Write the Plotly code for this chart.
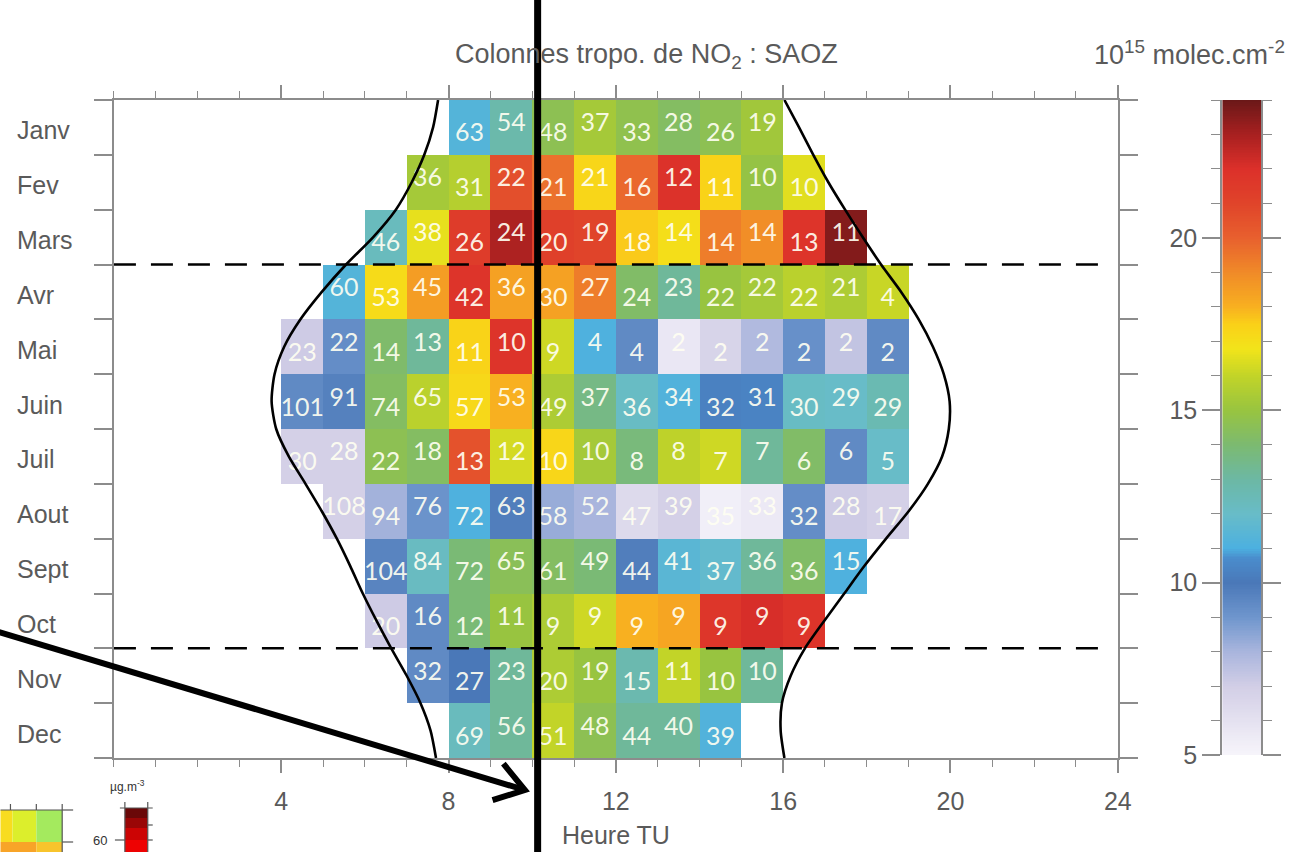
import math
import numpy as np
import plotly.graph_objects as go

# ---------------- data ----------------
months = ["Janv", "Fev", "Mars", "Avr", "Mai", "Juin", "Juil", "Aout", "Sept", "Oct", "Nov", "Dec"]
start_hours = [8, 7, 6, 5, 4, 4, 4, 5, 6, 6, 7, 8]

# NO2 tropospheric columns (1e15 molec/cm2), one value per hour starting at start_hours
no2_janv = [11.3, 12.8, 14.6, 15.3, 14.7, 14.3, 14.6, 15.2]
no2_fev = [15.3, 15.7, 20.6, 19.6, 17.3, 19.8, 21.9, 17.4, 14.9, 16.5]
no2_mars = [12.3, 16.6, 21.4, 22.9, 21.2, 21.0, 17.6, 17.0, 19.3, 18.9, 21.8, 23.6]
no2_avr = [11.3, 17.1, 18.5, 21.8, 18.4, 18.4, 19.3, 14.2, 13.2, 15.0, 15.3, 15.8, 15.5, 16.1]
no2_mai = [7.1, 9.3, 14.1, 13.2, 17.4, 21.8, 16.2, 11.1, 9.4, 5.7, 6.7, 7.8, 9.2, 7.4, 9.4]
no2_juin = [9.4, 9.7, 14.3, 15.8, 17.2, 18.0, 15.5, 13.6, 12.1, 11.2, 10.3, 10.4, 12.1, 12.0, 12.6]
no2_juil = [6.9, 6.9, 14.6, 14.3, 20.5, 16.3, 17.3, 15.3, 13.8, 15.9, 16.2, 13.2, 14.2, 9.4, 12.0]
no2_aout = [6.9, 8.1, 9.1, 11.1, 9.8, 8.3, 8.0, 6.4, 6.9, 5.3, 5.6, 9.3, 7.1, 6.9]
no2_sept = [9.6, 12.2, 13.9, 14.5, 14.3, 13.9, 9.8, 11.5, 11.8, 13.2, 14.2, 11.1]
no2_oct = [7.1, 9.4, 13.9, 15.0, 15.5, 16.2, 18.0, 18.3, 21.7, 22.1, 21.8]
no2_nov = [9.4, 10.0, 13.2, 15.5, 15.0, 12.7, 16.0, 15.0, 13.2]
no2_dec = [12.3, 13.2, 16.0, 14.6, 13.2, 13.2, 11.2]

# number of observations per cell
n_janv = [63, 54, 48, 37, 33, 28, 26, 19]
n_fev = [36, 31, 22, 21, 21, 16, 12, 11, 10, 10]
n_mars = [46, 38, 26, 24, 20, 19, 18, 14, 14, 14, 13, 11]
n_avr = [60, 53, 45, 42, 36, 30, 27, 24, 23, 22, 22, 22, 21, 4]
n_mai = [23, 22, 14, 13, 11, 10, 9, 4, 4, 2, 2, 2, 2, 2, 2]
n_juin = [101, 91, 74, 65, 57, 53, 49, 37, 36, 34, 32, 31, 30, 29, 29]
n_juil = [30, 28, 22, 18, 13, 12, 10, 10, 8, 8, 7, 7, 6, 6, 5]
n_aout = [108, 94, 76, 72, 63, 58, 52, 47, 39, 35, 33, 32, 28, 17]
n_sept = [104, 84, 72, 65, 61, 49, 44, 41, 37, 36, 36, 15]
n_oct = [20, 16, 12, 11, 9, 9, 9, 9, 9, 9, 9]
n_nov = [32, 27, 23, 20, 19, 15, 11, 10, 10]
n_dec = [69, 56, 51, 48, 44, 40, 39]

# sunrise / sunset curves (hour UT vs month position, 0 = start of January)
curve_row = [0.0, 0.5, 1.0, 1.5, 2.0, 2.5, 3.0, 3.5, 4.0, 4.5, 5.0, 5.5, 6.0,
             6.5, 7.0, 7.5, 8.0, 8.5, 9.0, 9.5, 10.0, 10.5, 11.0, 11.5, 12.0]
sunrise_hour = [7.75, 7.63, 7.42, 7.12, 6.74, 6.20, 5.55, 4.97, 4.46, 4.07, 3.84, 3.77, 3.88,
                4.18, 4.58, 4.97, 5.33, 5.65, 5.95, 6.28, 6.63, 7.00, 7.33, 7.57, 7.70]
sunset_hour = [16.03, 16.38, 16.72, 17.08, 17.48, 17.90, 18.34, 18.82, 19.24, 19.58, 19.84, 19.98, 19.96,
               19.80, 19.46, 19.00, 18.46, 17.94, 17.46, 16.98, 16.52, 16.18, 15.97, 15.94, 16.03]

season_breaks = [3, 10]        # dashed separators (between Mars/Avr and Oct/Nov)
marked_hour = 10.13            # thick vertical marker
x_ticks = [4, 8, 12, 16, 20, 24]
cb_ticks = [5, 10, 15, 20]
zmin, zmax = 5, 24

colorscale = [
    [0.000, "#f7f5fb"], [0.105, "#d2cee6"], [0.158, "#a9b5dd"], [0.210, "#6f96cd"],
    [0.263, "#4a78b8"], [0.300, "#4a8ccc"], [0.316, "#4cb0e0"], [0.368, "#68bcc8"],
    [0.421, "#6cb8a4"], [0.474, "#7cba70"], [0.526, "#98c440"], [0.579, "#c2d428"],
    [0.620, "#f2e41a"], [0.658, "#fad018"], [0.684, "#f8b020"], [0.737, "#f08a28"],
    [0.789, "#e8602e"], [0.842, "#e0442a"], [0.895, "#dc302a"], [0.947, "#a82020"],
    [1.000, "#6a1818"],
]

no2_rows = [no2_janv, no2_fev, no2_mars, no2_avr, no2_mai, no2_juin,
            no2_juil, no2_aout, no2_sept, no2_oct, no2_nov, no2_dec]
n_rows = [n_janv, n_fev, n_mars, n_avr, n_mai, n_juin,
          n_juil, n_aout, n_sept, n_oct, n_nov, n_dec]

# ---------------- geometry helpers ----------------
W, H = 1297, 852
ML, MR, MT, MB = 100, 20, 100, 94
PW, PH = W - ML - MR, H - MT - MB


def fx(px):
    return (px - ML) / PW


def fy(py):
    return (H - MB - py) / PH


# ---------------- build matrices ----------------
z = [[None] * 24 for _ in range(12)]
tx, ty, tt = [], [], []
for r in range(12):
    h0 = start_hours[r]
    for k, (v, n) in enumerate(zip(no2_rows[r], n_rows[r])):
        h = h0 + k
        z[r][h] = v
        tx.append(h + 0.5)
        ty.append(r + 0.5 + (0.14 if h % 2 == 0 else -0.04))
        tt.append(str(n))

fig = go.Figure()

fig.add_trace(go.Heatmap(
    x=np.arange(24) + 0.5, y=np.arange(12) + 0.5, z=z,
    colorscale=colorscale, zmin=zmin, zmax=zmax, showscale=False,
    xgap=0, ygap=0, hoverongaps=False,
))

fig.add_trace(go.Scatter(
    x=tx, y=ty, text=tt, mode="text",
    textfont=dict(family="Lato", size=25, color="rgba(255,255,242,0.93)"),
    hoverinfo="skip", showlegend=False,
))

for hx in (sunrise_hour, sunset_hour):
    fig.add_trace(go.Scatter(
        x=hx, y=curve_row, mode="lines",
        line=dict(color="black", width=2.6, shape="spline", smoothing=0.7),
        hoverinfo="skip", showlegend=False,
    ))

# colour bar drawn as a second heatmap so labels can sit on its left
cb_vals = np.linspace(zmin, zmax, 400)
fig.add_trace(go.Heatmap(
    x=[0], y=cb_vals, z=cb_vals[:, None],
    colorscale=colorscale, zmin=zmin, zmax=zmax, showscale=False,
    xaxis="x2", yaxis="y2", hoverinfo="skip",
))

axis_grey = "#8c8c8c"
label_font = dict(family="Liberation Sans", size=25, color="#5a5a5a")

fig.update_layout(
    width=W, height=H,
    margin=dict(l=ML, r=MR, t=MT, b=MB, pad=0),
    paper_bgcolor="white", plot_bgcolor="white",
    showlegend=False,
    xaxis=dict(
        domain=[fx(114), fx(1123)], range=[0, 24],
        tickvals=x_ticks, ticktext=[str(v) for v in x_ticks],
        ticks="outside", ticklen=13, tickwidth=1.5, tickcolor=axis_grey,
        minor=dict(dtick=1, tick0=0, ticks="outside", ticklen=7, tickcolor=axis_grey, tickwidth=1.2),
        mirror="allticks", showline=True, linecolor=axis_grey, linewidth=2,
        showgrid=False, zeroline=False, tickfont=label_font, ticklabelstandoff=7,
        anchor="y",
    ),
    yaxis=dict(
        domain=[0, 1], range=[12, 0],
        tickvals=list(range(13)), showticklabels=False,
        ticks="outside", ticklen=18, tickwidth=1.5, tickcolor=axis_grey,
        mirror="allticks", showline=True, linecolor=axis_grey, linewidth=2,
        showgrid=False, zeroline=False, anchor="x",
    ),
    xaxis2=dict(
        domain=[fx(1228), fx(1267)], range=[-0.5, 0.5], anchor="y2",
        showticklabels=False, ticks="", showgrid=False, zeroline=False, showline=False,
    ),
    yaxis2=dict(
        domain=[fy(755), fy(100)], range=[zmin, zmax], anchor="x2", side="left",
        tickvals=cb_ticks, ticks="outside", ticklen=18, tickwidth=1.5, tickcolor=axis_grey,
        minor=dict(dtick=1, tick0=5, ticks="outside", ticklen=9, tickcolor=axis_grey, tickwidth=1.2),
        mirror="allticks", showline=True, linecolor=axis_grey, linewidth=2,
        showgrid=False, zeroline=False, tickfont=label_font,
    ),
)

# month labels
for r, m in enumerate(months):
    fig.add_annotation(x=fx(15), xref="paper", y=r + 0.5, yref="y", yshift=-3,
                       text=m, showarrow=False, xanchor="left", yanchor="middle",
                       font=label_font)

title_font = dict(family="Liberation Sans", size=27, color="#5a5a5a")
fig.add_annotation(x=fx(649), y=fy(56), xref="paper", yref="paper",
                   text="Colonnes tropo. de NO<sub>2</sub> : SAOZ", showarrow=False,
                   xanchor="center", yanchor="middle", font=title_font)
fig.add_annotation(x=fx(1293), y=fy(53), xref="paper", yref="paper",
                   text="10<sup>15</sup> molec.cm<sup>-2</sup>", showarrow=False,
                   xanchor="right", yanchor="middle", font=title_font)
fig.add_annotation(x=12, xref="x", y=fy(835), yref="paper",
                   text="Heure TU", showarrow=False, xanchor="center", yanchor="middle",
                   font=label_font)

shapes = []
for b in season_breaks:
    shapes.append(dict(type="line", xref="x", yref="y", x0=0, x1=23.7, y0=b, y1=b,
                       line=dict(color="black", width=2.5, dash="22px,15px"), layer="above"))

shapes.append(dict(type="line", xref="x", yref="paper", x0=marked_hour, x1=marked_hour,
                   y0=fy(H + 10), y1=fy(-10), line=dict(color="black", width=7), layer="above"))

# arrow (overlay)
tail = (-5, 631)
tip = (527, 790)
dx, dy = tip[0] - tail[0], tip[1] - tail[1]
L = math.hypot(dx, dy)
ux, uy = dx / L, dy / L
wing = 34
theta = math.radians(34)
w1 = (tip[0] - wing * (ux * math.cos(theta) - uy * math.sin(theta)),
      tip[1] - wing * (ux * math.sin(theta) + uy * math.cos(theta)))
w2 = (tip[0] - wing * (ux * math.cos(theta) + uy * math.sin(theta)),
      tip[1] - wing * (-ux * math.sin(theta) + uy * math.cos(theta)))


def P(p):
    return f"{fx(p[0]):.5f},{fy(p[1]):.5f}"


shapes.append(dict(type="path", xref="paper", yref="paper",
                   path=f"M{P(tail)} L{P(tip)}", line=dict(color="black", width=6), layer="above"))
shapes.append(dict(type="path", xref="paper", yref="paper",
                   path=f"M{P(w1)} L{P(tip)} L{P(w2)}", line=dict(color="black", width=6), layer="above"))

# fragment of another figure in the bottom-left corner
frag_cells = [
    (0, 12, 810, 842, "#f8dc20"), (12, 36, 810, 842, "#dcee2c"), (36, 62, 810, 842, "#a4ea5e"),
    (0, 36, 842, 860, "#f8a428"), (36, 62, 842, 860, "#f8c42c"),
    (125, 148, 808, 818, "#6a0808"), (125, 148, 818, 828, "#9a0606"),
    (125, 148, 828, 840, "#cc0404"), (125, 148, 840, 860, "#ee0202"),
]
for x0, x1, y0, y1, c in frag_cells:
    shapes.append(dict(type="rect", xref="paper", yref="paper", x0=fx(x0), x1=fx(x1),
                       y0=fy(y1), y1=fy(y0), fillcolor=c, line=dict(width=0), layer="above"))
frag_lines = [
    ((0, 810), (62, 810)), ((62, 810), (62, 860)), ((62, 810), (73, 810)), ((62, 842), (73, 842)),
    ((10, 804), (10, 810)), ((36, 804), (36, 810)), ((62, 804), (62, 810)),
    ((125, 802), (125, 860)), ((148, 802), (148, 860)), ((120, 808), (153, 808)),
    ((115, 840), (125, 840)), ((148, 825), (153, 825)), ((148, 840), (153, 840)),
]
for a, b in frag_lines:
    shapes.append(dict(type="path", xref="paper", yref="paper", path=f"M{P(a)} L{P(b)}",
                       line=dict(color="#555555", width=1.2), layer="above"))
fig.update_layout(shapes=shapes)

fig.add_annotation(x=fx(100), y=fy(840), xref="paper", yref="paper", text="60",
                   showarrow=False, xanchor="center", yanchor="middle",
                   font=dict(family="Liberation Sans", size=13, color="#333"))
fig.add_annotation(x=fx(128), y=fy(786), xref="paper", yref="paper", text="µg.m<sup>-3</sup>",
                   showarrow=False, xanchor="center", yanchor="middle",
                   font=dict(family="Liberation Sans", size=12, color="#333"))

fig.write_html("out.html")
